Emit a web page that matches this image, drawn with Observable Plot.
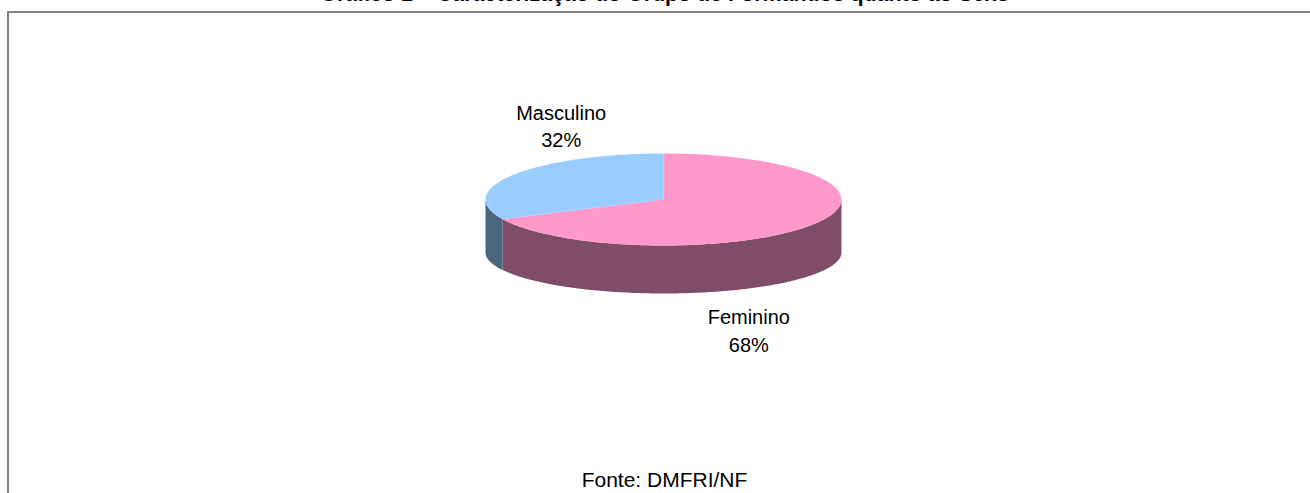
<!DOCTYPE html>
<html>
<head>
<meta charset="utf-8">
<script src="https://cdn.jsdelivr.net/npm/d3@7"></script>
<script src="https://cdn.jsdelivr.net/npm/@observablehq/plot@0.6"></script>
<style>
  html, body { margin: 0; background: #fff; overflow: hidden; }
  #wrap { position: relative; width: 1310px; height: 493px; overflow: hidden; background: #fff;
          font-family: "Liberation Sans", Arial, sans-serif; }
  #title { position: absolute; left: 0; width: 1310px; text-align: center; font-weight: bold; white-space: nowrap; color: #000; padding-left: 20px; box-sizing: border-box; }
  #frame { position: absolute; left: 7px; top: 11px; width: 1303px; height: 482px;
           border-top: 2px solid #808080; border-left: 2px solid #808080; box-sizing: border-box; }
  #chart { position: absolute; left: 0; top: 0; }
  #caption { position: absolute; left: 14px; width: 1301px; text-align: center; font-size: 21px; line-height: 21px; top: 469px; color: #000; }
</style>
</head>
<body>
<div id="wrap">
  <div id="frame"></div>
  <div id="title">Gráfico 1 – Caracterização do Grupo de Formandos quanto ao Sexo</div>
  <div id="chart"></div>
  <div id="caption">Fonte: DMFRI/NF</div>
</div>
<script>
// ---- data ----
const categories = ["Feminino", "Masculino"];
const percentages = [68, 32];

// ---- styles / layout ----
const topFill = {Feminino: "#FF99CC", Masculino: "#99CCFF"};
const sideFill = {Feminino: "#804D66", Masculino: "#4D6680"};
const DEPTH = 53 / 46;      // offset of bottom ellipse centre (in top-ellipse radius units)
const BOTTOM_RY = 41 / 46;  // bottom ellipse flattening
const labelNudge = {Masculino: [48, -50], Feminino: [-65, 105]};

// title sizing: approx 690px wide, only the bottom of the glyphs visible
(function () {
  const t = document.getElementById("title");
  const c = document.createElement("canvas").getContext("2d");
  c.font = "bold 20px 'Liberation Sans'";
  const w = c.measureText(t.textContent).width;
  const fs = 20 * 690 / w;
  t.style.fontSize = fs + "px";
  t.style.lineHeight = fs + "px";
  t.style.top = (2.2 - 0.8465 * fs) + "px";
})();

const arcs = d3.pie().sort(null).value(d => d)(percentages)
  .map((a, i) => ({...a, category: categories[i]}));

const pt = (th, off = 0, k = 1) => ({x: Math.sin(th), y: off + k * (-Math.cos(th))});
function arcPts(a, b, off = 0, k = 1) {
  const n = Math.max(2, Math.ceil(Math.abs(b - a) / (2 * Math.PI) * 360));
  return d3.range(n + 1).map(i => pt(a + (b - a) * i / n, off, k));
}

const sides = [];
const tops = [];
for (const a of arcs) {
  const s = Math.max(a.startAngle, Math.PI / 2), e = Math.min(a.endAngle, 3 * Math.PI / 2);
  if (s < e) {
    sides.push({category: a.category, pts: [...arcPts(s, e), ...arcPts(e, s, DEPTH, BOTTOM_RY)]});
  }
  tops.push({category: a.category, pts: [{x: 0, y: 0}, ...arcPts(a.startAngle, a.endAngle)]});
}

const labels = arcs.map((a, i) => {
  const m = (a.startAngle + a.endAngle) / 2;
  return {...pt(m), category: a.category, text: `${a.category}\n${percentages[i]}%`};
});

const polyMark = (poly, fill) => Plot.line(poly.pts, {x: "x", y: "y", fill, stroke: "none", curve: "linear"});

const chart = Plot.plot({
  width: 1310,
  height: 493,
  margin: 0,
  x: {domain: [-1, 1], range: [485, 841], axis: null},
  y: {domain: [-1, 1], range: [153, 245], axis: null},
  style: {background: "transparent", fontFamily: "'Liberation Sans', Arial, sans-serif"},
  marks: [
    ...sides.map(p => polyMark(p, sideFill[p.category])),
    ...tops.map(p => polyMark(p, topFill[p.category])),
    ...labels.map(l => Plot.text([l], {
      x: "x", y: "y", text: "text",
      dx: labelNudge[l.category][0], dy: labelNudge[l.category][1],
      fontSize: 20, lineHeight: 1.38, fill: "#000", textAnchor: "middle", lineAnchor: "middle"
    }))
  ]
});
document.getElementById("chart").appendChild(chart);
</script>
</body>
</html>
